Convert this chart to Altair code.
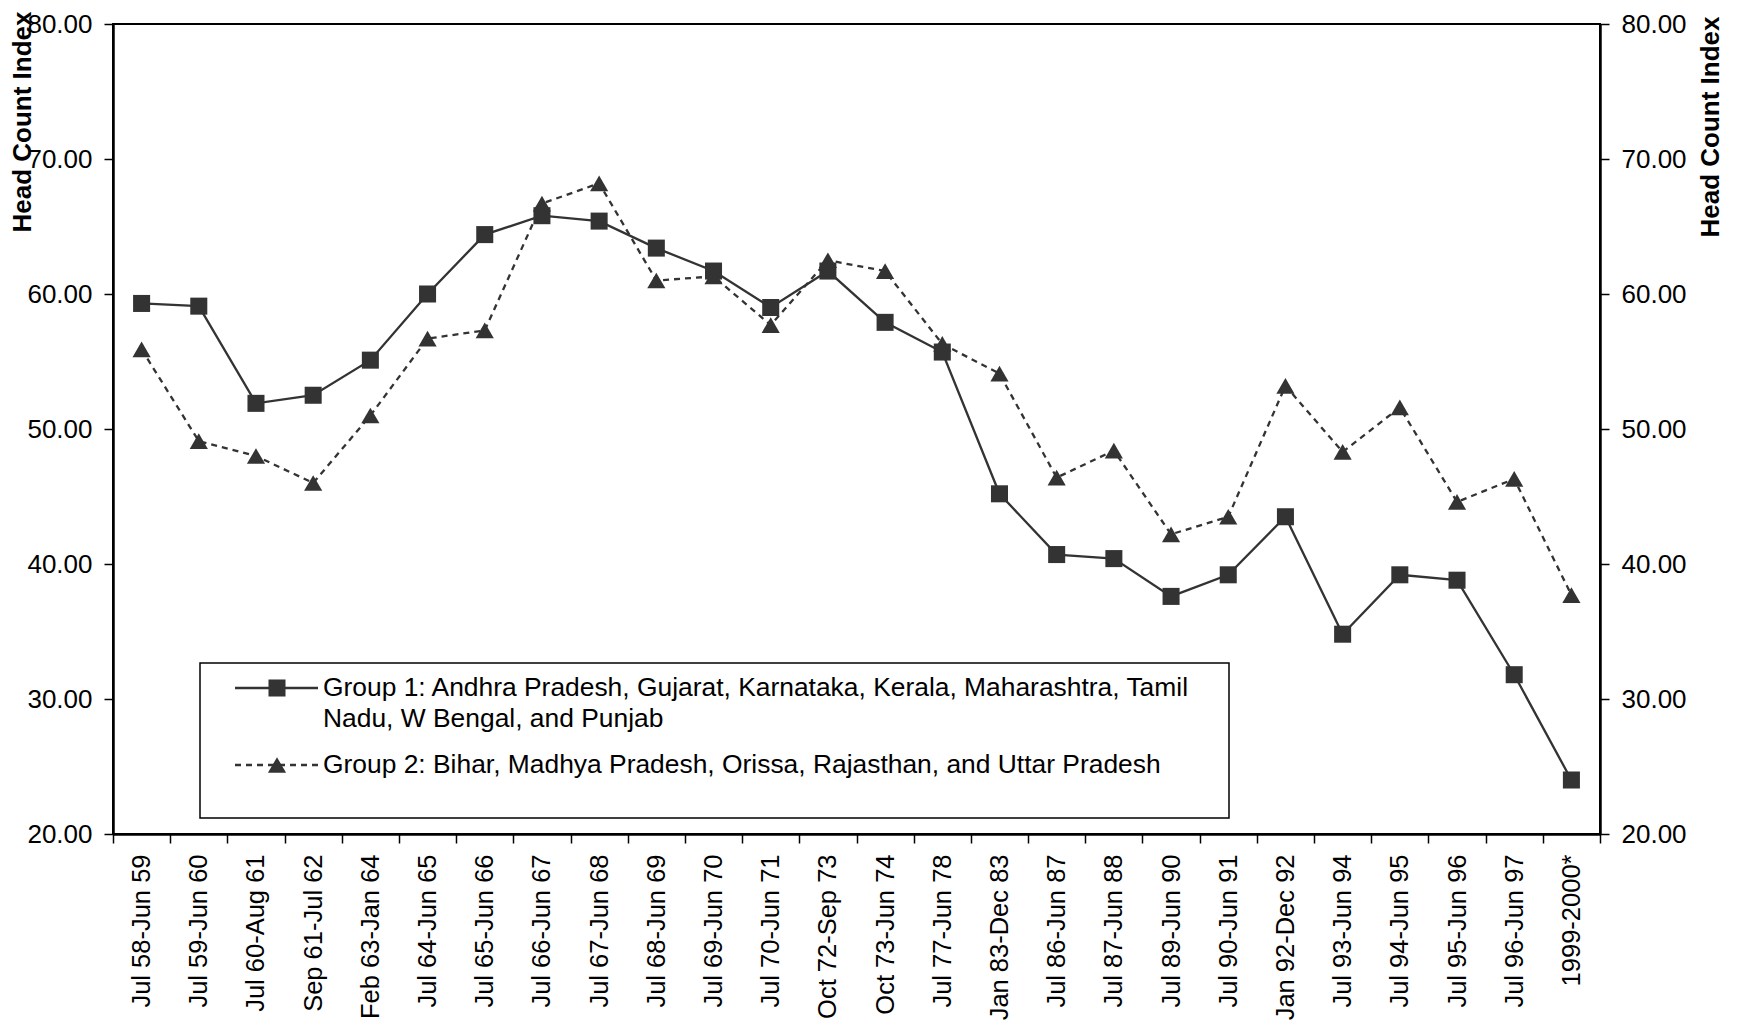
import altair as alt
import pandas as pd

periods = ["Jul 58-Jun 59", "Jul 59-Jun 60", "Jul 60-Aug 61", "Sep 61-Jul 62", "Feb 63-Jan 64",
           "Jul 64-Jun 65", "Jul 65-Jun 66", "Jul 66-Jun 67", "Jul 67-Jun 68", "Jul 68-Jun 69",
           "Jul 69-Jun 70", "Jul 70-Jun 71", "Oct 72-Sep 73", "Oct 73-Jun 74", "Jul 77-Jun 78",
           "Jan 83-Dec 83", "Jul 86-Jun 87", "Jul 87-Jun 88", "Jul 89-Jun 90", "Jul 90-Jun 91",
           "Jan 92-Dec 92", "Jul 93-Jun 94", "Jul 94-Jun 95", "Jul 95-Jun 96", "Jul 96-Jun 97",
           "1999-2000*"]

group1 = [59.3, 59.1, 51.9, 52.5, 55.1, 60.0, 64.4, 65.8, 65.4, 63.4, 61.7, 59.0, 61.7,
          57.9, 55.7, 45.2, 40.7, 40.4, 37.6, 39.2, 43.5, 34.8, 39.2, 38.8, 31.8, 24.0]
group2 = [55.9, 49.1, 48.0, 46.0, 51.0, 56.7, 57.3, 66.7, 68.2, 61.0, 61.3, 57.7, 62.5,
          61.7, 56.3, 54.1, 46.4, 48.4, 42.2, 43.5, 53.2, 48.3, 51.6, 44.6, 46.3, 37.7]

legend_lines = ["Group 1: Andhra Pradesh, Gujarat, Karnataka, Kerala, Maharashtra, Tamil",
                "Nadu, W Bengal, and Punjab",
                "Group 2: Bihar, Madhya Pradesh, Orissa, Rajasthan, and Uttar Pradesh"]

y_ticks = [20, 30, 40, 50, 60, 70, 80]

FONT = "Liberation Sans"
INK = "#333333"
DASH = [6, 5]

df1 = pd.DataFrame({"period": periods, "value": group1})
df2 = pd.DataFrame({"period": periods, "value": group2})
one = pd.DataFrame({"k": [0]})

yscale = alt.Scale(domain=[20, 80], nice=False, zero=False)
xscale = alt.Scale(type="band", paddingInner=0, paddingOuter=0)

x_enc = alt.X("period:N", sort=periods, scale=xscale, bandPosition=0.5,
              axis=alt.Axis(title=None, labelAngle=270, tickBand="extent",
                            labelPadding=11, tickSize=9, labelFontSize=25.5))

left_axis = alt.Axis(title="Head Count Index", values=y_ticks, format=".2f", orient="left",
                     titleAngle=270, titleAnchor="end", titleAlign="right",
                     titleBaseline="middle", titleX=-91, titleY=-13,
                     labelPadding=12, tickSize=9)
right_axis = alt.Axis(title="Head Count Index", values=y_ticks, format=".2f", orient="right",
                      titleAngle=270, titleAnchor="end", titleAlign="right",
                      titleBaseline="middle", titleX=110, titleY=-8,
                      labelPadding=12, tickSize=9)

line1 = alt.Chart(df1).mark_line(color=INK, strokeWidth=2.3).encode(
    x=x_enc, y=alt.Y("value:Q", scale=yscale, axis=left_axis))
line2 = alt.Chart(df2).mark_line(color=INK, strokeWidth=2.3, strokeDash=DASH).encode(
    x=x_enc, y=alt.Y("value:Q", scale=yscale, axis=right_axis))
pts1 = alt.Chart(df1).mark_point(shape="square", filled=True, color=INK, size=290, opacity=1).encode(
    x=x_enc, y=alt.Y("value:Q", scale=yscale, axis=None))
pts2 = alt.Chart(df2).mark_point(shape="triangle-up", filled=True, color=INK, size=330, opacity=1).encode(
    x=x_enc, y=alt.Y("value:Q", scale=yscale, axis=None))

# legend (drawn inside the plot area)
box = alt.Chart(one).mark_rect(fill="white", stroke="black", strokeWidth=1.5).encode(
    x=alt.value(87), x2=alt.value(1116), y=alt.value(639), y2=alt.value(794))
sym1_line = alt.Chart(one).mark_rule(color=INK, strokeWidth=2.3).encode(
    x=alt.value(122), x2=alt.value(205), y=alt.value(664))
sym1_pt = alt.Chart(one).mark_point(shape="square", filled=True, color=INK, size=290, opacity=1).encode(
    x=alt.value(164), y=alt.value(664))
sym2_line = alt.Chart(one).mark_rule(color=INK, strokeWidth=2.3, strokeDash=DASH).encode(
    x=alt.value(122), x2=alt.value(205), y=alt.value(741))
sym2_pt = alt.Chart(one).mark_point(shape="triangle-up", filled=True, color=INK, size=330, opacity=1).encode(
    x=alt.value(164), y=alt.value(741))

def legend_text(txt, ypos):
    return alt.Chart(one).mark_text(align="left", baseline="middle", font=FONT,
                                    fontSize=26.4, color="black").encode(
        x=alt.value(210), y=alt.value(ypos), text=alt.value(txt))

t1 = legend_text(legend_lines[0], 664)
t2 = legend_text(legend_lines[1], 695)
t3 = legend_text(legend_lines[2], 741)

chart = alt.layer(line1, line2, pts1, pts2, box, sym1_line, sym1_pt, sym2_line, sym2_pt, t1, t2, t3).resolve_axis(
    y="independent"
).properties(
    width=1487, height=810,
    background="white",
    autosize=alt.AutoSizeParams(type="none"),
    padding={"left": 105, "top": 16, "right": 123, "bottom": 187},
).configure_view(
    stroke="black", strokeWidth=2
).configure_axis(
    domainColor="black", domainWidth=2.5, tickColor="black", tickWidth=1.5,
    labelFont=FONT, labelFontSize=26, labelColor="black",
    titleFont=FONT, titleFontSize=26, titleFontWeight="bold", titleColor="black",
    grid=False
)

chart.save("out.html", embed_options={"renderer": "svg", "actions": False})
